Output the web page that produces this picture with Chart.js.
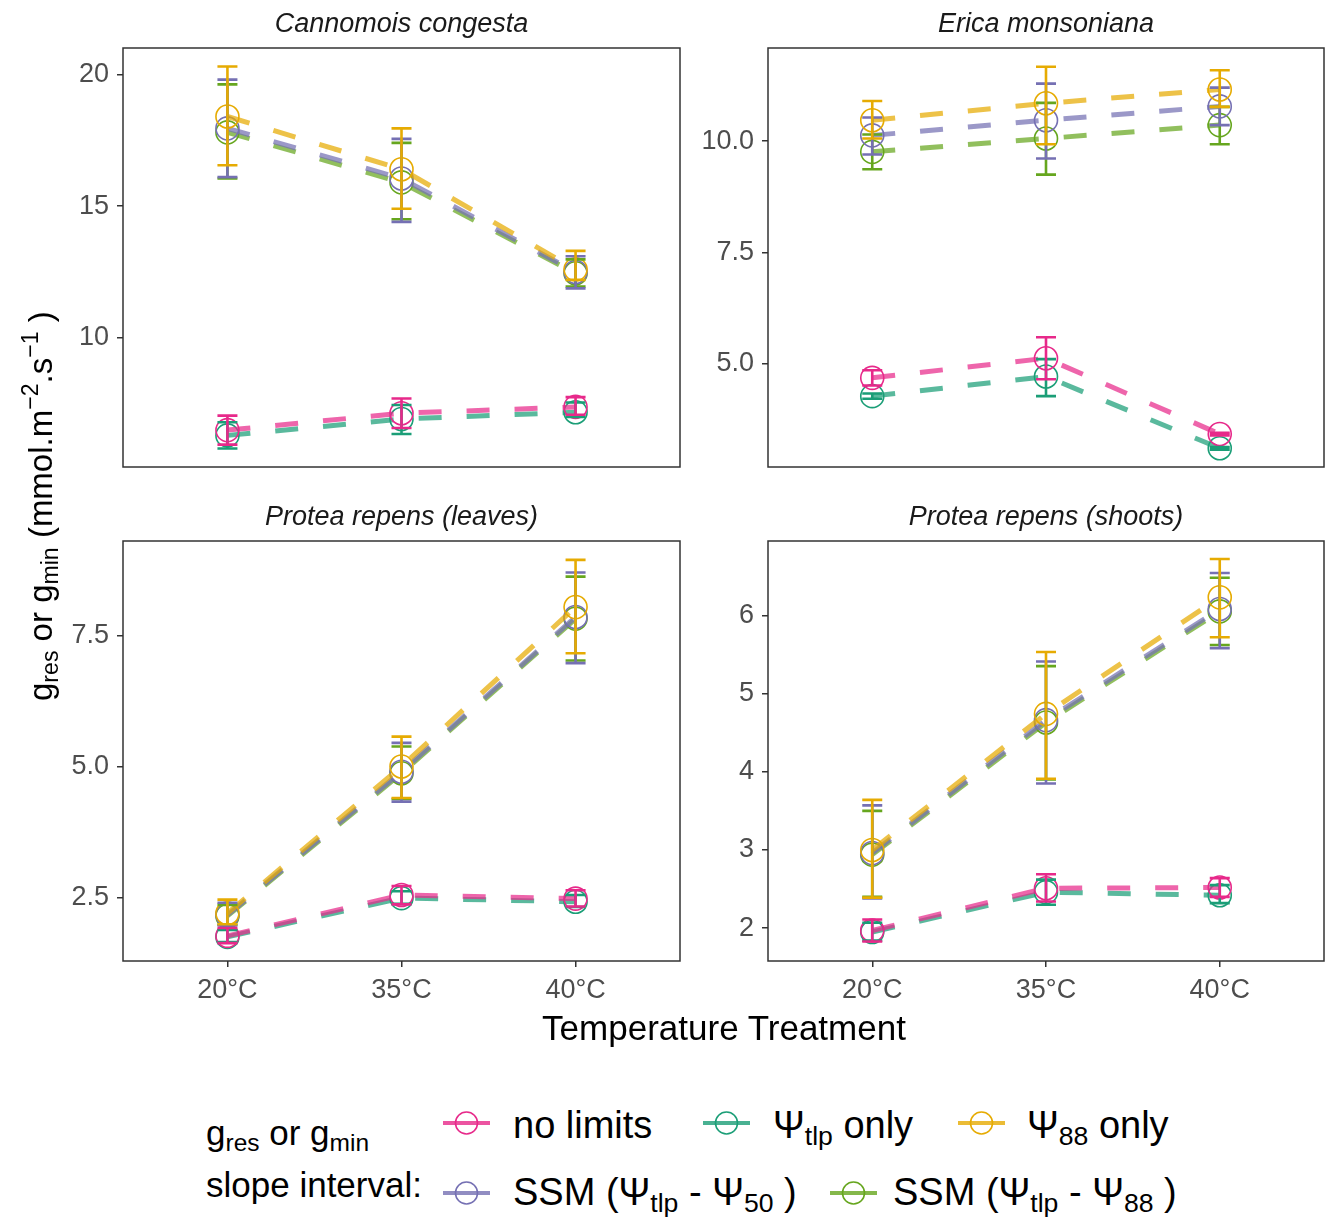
<!DOCTYPE html>
<html>
<head>
<meta charset="utf-8">
<script src="https://cdn.jsdelivr.net/npm/chart.js@4.4.0/dist/chart.umd.min.js"></script>
<style>
  html, body { margin: 0; padding: 0; background: #ffffff; overflow: hidden; }
  body { width: 1325px; height: 1217px; position: relative; font-family: 'Liberation Sans', Arial, sans-serif; }
  canvas { position: absolute; }
  .txt { position: absolute; white-space: nowrap; line-height: 1; }
  .ftitle { font-style: italic; font-size: 27px; color: #1A1A1A; }
  .sub { font-size: 0.7em; vertical-align: -0.25em; }
  .sup { font-size: 0.7em; vertical-align: 0.6em; }
  #ytitle { position: absolute; white-space: nowrap; line-height: 1; font-size: 33px; color: #000;
            transform-origin: 0 0; }
  svg { position: absolute; }
</style>
</head>
<body>
<script>
// ---------------- DATA ----------------
const categories = ['20°C', '35°C', '40°C'];

// each entry: [lower, mean, upper] for 20°C, 35°C, 40°C
// Cannomois congesta
const ccNoLimits = [[5.95, 6.50, 7.05], [6.58, 7.14, 7.70], [7.08, 7.38, 7.75]];
const ccTlp      = [[5.80, 6.30, 6.80], [6.35, 6.92, 7.45], [7.00, 7.18, 7.55]];
const cc88       = [[16.55, 18.40, 20.30], [14.90, 16.40, 17.95], [12.20, 12.60, 13.30]];
const ccSsm50    = [[16.10, 17.95, 19.80], [14.40, 16.05, 17.55], [11.88, 12.50, 13.10]];
const ccSsm88    = [[16.05, 17.80, 19.62], [14.50, 15.90, 17.40], [11.95, 12.45, 12.98]];
// Erica monsoniana
const emNoLimits = [[4.52, 4.69, 4.86], [4.66, 5.13, 5.60], [3.40, 3.43, 3.46]];
const emTlp      = [[4.22, 4.28, 4.34], [4.28, 4.72, 5.11], [3.08, 3.11, 3.14]];
const em88       = [[10.06, 10.47, 10.90], [9.93, 10.85, 11.67], [10.77, 11.16, 11.59]];
const emSsm50    = [[9.70, 10.13, 10.53], [9.61, 10.47, 11.29], [10.36, 10.78, 11.20]];
const emSsm88    = [[9.37, 9.76, 10.15], [9.25, 10.06, 10.86], [9.93, 10.36, 10.77]];
// Protea repens (leaves)
const plNoLimits = [[1.63, 1.77, 1.92], [2.37, 2.55, 2.72], [2.33, 2.48, 2.64]];
const plTlp      = [[1.65, 1.75, 1.88], [2.38, 2.49, 2.62], [2.32, 2.42, 2.55]];
const pl88       = [[1.99, 2.20, 2.46], [4.40, 5.00, 5.57], [7.16, 8.04, 8.94]];
const plSsm50    = [[1.97, 2.17, 2.40], [4.33, 4.90, 5.45], [6.97, 7.85, 8.70]];
const plSsm88    = [[1.98, 2.15, 2.36], [4.38, 4.87, 5.38], [7.02, 7.82, 8.62]];
// Protea repens (shoots)
const psNoLimits = [[1.83, 1.97, 2.11], [2.34, 2.51, 2.69], [2.40, 2.52, 2.64]];
const psTlp      = [[1.84, 1.95, 2.07], [2.30, 2.46, 2.62], [2.32, 2.42, 2.55]];
const ps88       = [[2.39, 3.00, 3.64], [3.91, 4.74, 5.53], [5.72, 6.23, 6.72]];
const psSsm50    = [[2.38, 2.96, 3.57], [3.85, 4.66, 5.41], [5.58, 6.08, 6.54]];
const psSsm88    = [[2.40, 2.94, 3.50], [3.90, 4.63, 5.35], [5.62, 6.05, 6.48]];

// y-axis ticks and ranges
const ccTicks = [10, 15, 20];        const ccTickLabels = ['10', '15', '20'];       const ccRange = [5.10, 21.00];
const emTicks = [5, 7.5, 10];        const emTickLabels = ['5.0', '7.5', '10.0'];   const emRange = [2.69, 12.09];
const plTicks = [2.5, 5, 7.5];       const plTickLabels = ['2.5', '5.0', '7.5'];    const plRange = [1.29, 9.30];
const psTicks = [2, 3, 4, 5, 6];     const psTickLabels = ['2', '3', '4', '5', '6']; const psRange = [1.58, 6.95];

const panelTitles = ['Cannomois congesta', 'Erica monsoniana', 'Protea repens (leaves)', 'Protea repens (shoots)'];

// ---------------- STYLE ----------------
const seriesColors = ['#E7298A', '#1B9E77', '#E6AB02', '#7570B3', '#66A61E'];
const seriesOrder = [0, 2, 1, 3, 4]; // lower = drawn on top
const FONT = "'Liberation Sans', Arial, sans-serif";

function rgba(hex, a) {
  const n = parseInt(hex.slice(1), 16);
  return `rgba(${(n >> 16) & 255},${(n >> 8) & 255},${n & 255},${a})`;
}

const panels = [
  { title: panelTitles[0], rect: [123, 48, 680, 467], range: ccRange, ticks: ccTicks, labels: ccTickLabels,
    series: [ccNoLimits, ccTlp, cc88, ccSsm50, ccSsm88], showX: false },
  { title: panelTitles[1], rect: [768, 48, 1324, 467], range: emRange, ticks: emTicks, labels: emTickLabels,
    series: [emNoLimits, emTlp, em88, emSsm50, emSsm88], showX: false },
  { title: panelTitles[2], rect: [123, 541, 680, 961], range: plRange, ticks: plTicks, labels: plTickLabels,
    series: [plNoLimits, plTlp, pl88, plSsm50, plSsm88], showX: true },
  { title: panelTitles[3], rect: [768, 541, 1324, 961], range: psRange, ticks: psTicks, labels: psTickLabels,
    series: [psNoLimits, psTlp, ps88, psSsm50, psSsm88], showX: true },
];

const errorBarPlugin = {
  id: 'errorBars',
  afterDatasetsDraw(chart) {
    const { ctx, chartArea, scales: { x, y } } = chart;
    ctx.save();
    ctx.beginPath();
    ctx.rect(chartArea.left, chartArea.top, chartArea.right - chartArea.left, chartArea.bottom - chartArea.top);
    ctx.clip();
    const sets = chart.data.datasets.slice().sort((a, b) => b.order - a.order);
    sets.forEach(ds => {
      ctx.strokeStyle = ds.pointBorderColor;
      ctx.lineWidth = 2.6;
      ctx.lineCap = 'butt';
      ds.errors.forEach((e, i) => {
        const px = x.getPixelForValue(i + 1);
        const yl = y.getPixelForValue(e[0]);
        const yh = y.getPixelForValue(e[2]);
        ctx.beginPath();
        ctx.moveTo(px, yl); ctx.lineTo(px, yh);
        ctx.moveTo(px - 10, yl); ctx.lineTo(px + 10, yl);
        ctx.moveTo(px - 10, yh); ctx.lineTo(px + 10, yh);
        ctx.stroke();
      });
    });
    ctx.restore();
  },
  afterDraw(chart) {
    const { ctx, chartArea } = chart;
    ctx.save();
    ctx.strokeStyle = '#333333';
    ctx.lineWidth = 1.5;
    ctx.strokeRect(chartArea.left, chartArea.top, chartArea.right - chartArea.left, chartArea.bottom - chartArea.top);
    ctx.restore();
  }
};

const YW = 115, PT = 30, PR = 3, XH = 70, PB = 30;

panels.forEach(p => {
  const [L, T, R, B] = p.rect;
  const cv = document.createElement('canvas');
  const w = (R - L) + YW + PR;
  const h = (B - T) + PT + (p.showX ? XH : PB);
  cv.width = w; cv.height = h;
  cv.style.left = (L - YW) + 'px';
  cv.style.top = (T - PT) + 'px';
  cv.style.width = w + 'px'; cv.style.height = h + 'px';
  document.body.appendChild(cv);

  const datasets = p.series.map((s, k) => ({
    label: 'series' + k,
    data: s.map((v, i) => ({ x: i + 1, y: v[1] })),
    errors: s,
    order: seriesOrder[k],
    borderColor: rgba(seriesColors[k], 0.72),
    borderWidth: 5,
    borderDash: [23, 25],
    borderCapStyle: 'butt',
    tension: 0,
    fill: false,
    pointStyle: 'circle',
    pointRadius: 11.5,
    pointBorderWidth: 1.6,
    pointBackgroundColor: 'rgba(0,0,0,0)',
    pointBorderColor: seriesColors[k],
  }));

  new Chart(cv, {
    type: 'line',
    data: { datasets },
    options: {
      responsive: false,
      animation: false,
      devicePixelRatio: 1,
      layout: { autoPadding: false, padding: { left: 0, top: PT, right: PR, bottom: p.showX ? 0 : PB } },
      plugins: { legend: { display: false }, tooltip: { enabled: false }, title: { display: false } },
      scales: {
        x: {
          type: 'linear', min: 0.4, max: 3.6,
          display: p.showX,
          afterBuildTicks: sc => { sc.ticks = categories.map((c, i) => ({ value: i + 1 })); },
          afterFit: sc => { if (p.showX) sc.height = XH; },
          ticks: { callback: v => categories[Math.round(v) - 1], color: '#4D4D4D',
                   font: { family: FONT, size: 27 }, padding: 7, maxRotation: 0, autoSkip: false },
          grid: { display: true, drawOnChartArea: false, drawTicks: true, tickLength: 6,
                  color: '#333333', lineWidth: 1.5 },
          border: { display: false }
        },
        y: {
          type: 'linear', min: p.range[0], max: p.range[1],
          afterBuildTicks: sc => { sc.ticks = p.ticks.map(v => ({ value: v })); },
          afterFit: sc => { sc.width = YW; },
          ticks: { callback: v => p.labels[p.ticks.indexOf(v)], color: '#4D4D4D',
                   font: { family: FONT, size: 27 }, padding: 8, autoSkip: false },
          grid: { display: true, drawOnChartArea: false, drawTicks: true, tickLength: 6,
                  color: '#333333', lineWidth: 1.5 },
          border: { display: false }
        }
      }
    },
    plugins: [errorBarPlugin]
  });

  // facet title
  const t = document.createElement('div');
  t.className = 'txt ftitle';
  t.textContent = p.title;
  document.body.appendChild(t);
  const tw = t.getBoundingClientRect().width;
  t.style.left = ((L + R) / 2 - tw / 2) + 'px';
  t.style.top = (T - 29 - 0.5 * 27 + 0.15 * 27) + 'px';
});

// helper for positioned text by baseline
function placeText(html, x, baseline, size, cls, color, align) {
  const d = document.createElement('div');
  d.className = 'txt ' + (cls || '');
  d.style.fontSize = size + 'px';
  d.style.color = color || '#000';
  d.innerHTML = html;
  document.body.appendChild(d);
  const w = d.getBoundingClientRect().width;
  d.style.left = (align === 'center' ? x - w / 2 : x) + 'px';
  d.style.top = (baseline - 0.8465 * size) + 'px';
  return d;
}

// x-axis title
placeText('Temperature Treatment', 724, 1040, 35, '', '#000', 'center');

// y-axis title (rotated)
const yt = document.createElement('div');
yt.id = 'ytitle';
yt.innerHTML = 'g<span class="sub">res</span> or g<span class="sub">min</span> (mmol.m<span class="sup">\u22122</span>.s<span class="sup">\u22121</span> )';
document.body.appendChild(yt);
const ytw = yt.getBoundingClientRect().width;
const yth = yt.getBoundingClientRect().height;
yt.style.left = (40 - yth / 2 + 0) + 'px';
yt.style.top = (506 + ytw / 2) + 'px';
yt.style.transform = 'rotate(-90deg)';

// legend
placeText('g<span class="sub">res</span> or g<span class="sub">min</span>', 206, 1145, 35);
placeText('slope interval:', 206, 1197, 35);

const legendItems = [
  { k: 0, x: 443, y: 1123, html: 'no limits', tx: 513, base: 1138 },
  { k: 1, x: 703, y: 1123, html: '\u03A8<span class="sub">tlp</span> only', tx: 773, base: 1138 },
  { k: 2, x: 958, y: 1123, html: '\u03A8<span class="sub">88</span> only', tx: 1027, base: 1138 },
  { k: 3, x: 443, y: 1193, html: 'SSM (\u03A8<span class="sub">tlp</span> - \u03A8<span class="sub">50</span> )', tx: 513, base: 1205 },
  { k: 4, x: 830, y: 1193, html: 'SSM (\u03A8<span class="sub">tlp</span> - \u03A8<span class="sub">88</span> )', tx: 893, base: 1205 },
];
const NS = 'http://www.w3.org/2000/svg';
legendItems.forEach(it => {
  const svg = document.createElementNS(NS, 'svg');
  svg.setAttribute('width', '48'); svg.setAttribute('height', '30');
  svg.style.left = it.x + 'px'; svg.style.top = (it.y - 15) + 'px';
  const ln = document.createElementNS(NS, 'line');
  ln.setAttribute('x1', '0'); ln.setAttribute('x2', '47'); ln.setAttribute('y1', '15'); ln.setAttribute('y2', '15');
  ln.setAttribute('stroke', rgba(seriesColors[it.k], 0.8)); ln.setAttribute('stroke-width', '4');
  const c = document.createElementNS(NS, 'circle');
  c.setAttribute('cx', '23.5'); c.setAttribute('cy', '15'); c.setAttribute('r', '11');
  c.setAttribute('fill', 'none'); c.setAttribute('stroke', seriesColors[it.k]); c.setAttribute('stroke-width', '1.6');
  svg.appendChild(ln); svg.appendChild(c);
  document.body.appendChild(svg);
  placeText(it.html, it.tx, it.base, 38);
});
</script>
</body>
</html>
